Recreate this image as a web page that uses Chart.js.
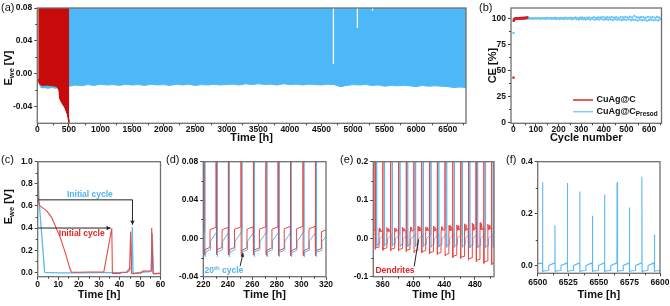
<!DOCTYPE html>
<html><head><meta charset="utf-8">
<script src="https://cdn.jsdelivr.net/npm/chart.js@4.4.1/dist/chart.umd.min.js"></script>
<style>
html,body{margin:0;padding:0;background:#fff;}
body{width:670px;height:306px;position:relative;overflow:hidden;}
canvas{position:absolute;}
.pl{position:absolute;font:11px "Liberation Sans",Arial,sans-serif;color:#111;line-height:12px;}
</style></head><body>
<canvas id="cA" width="468" height="145" style="left:0;top:0"></canvas>
<canvas id="cB" width="190" height="145" style="left:478px;top:0"></canvas>
<canvas id="cC" width="170" height="157" style="left:0;top:145px"></canvas>
<canvas id="cD" width="175" height="157" style="left:165px;top:145px"></canvas>
<canvas id="cE" width="165" height="157" style="left:340px;top:145px"></canvas>
<canvas id="cF" width="165" height="157" style="left:505px;top:145px"></canvas>
<div class="pl" style="left:1px;top:1px">(a)</div>
<div class="pl" style="left:479px;top:1px">(b)</div>
<div class="pl" style="left:1px;top:153px">(c)</div>
<div class="pl" style="left:166px;top:153px">(d)</div>
<div class="pl" style="left:340px;top:153px">(e)</div>
<div class="pl" style="left:506px;top:153px">(f)</div>
<script>
// ================= DATA =================
// (a) long-term cycling: lower envelope of the dense voltage band (upper end is off-scale)
const aXTicks = [0,500,1000,1500,2000,2500,3000,3500,4000,4500,5000,5500,6000,6500];
const aYTicks = [-0.04,0,0.04,0.08];
const aBlueT = [20,50,80,120,160,200,240,280,320,360,400,450,500,550,600,700,800,900,1000,1100,1200,1300,1400,1500,1600,1700,1800,1900,2000,2100,2200,2300,2400,2500,2600,2700,2800,2900,3000,3100,3200,3300,3400,3500,3600,3700,3800,3900,4000,4100,4200,4300,4400,4500,4600,4700,4800,4900,5000,5100,5200,5300,5400,5500,5600,5700,5800,5900,6000,6100,6200,6300,6400,6500,6600,6700,6800];
const aBlueV = [-0.006,-0.016,-0.017,-0.0165,-0.0175,-0.017,-0.0165,-0.0175,-0.017,-0.0165,-0.016,-0.0155,-0.015,-0.0145,-0.0135,-0.0145,-0.013,-0.014,-0.0125,-0.0135,-0.013,-0.014,-0.0125,-0.0135,-0.013,-0.014,-0.0125,-0.0135,-0.013,-0.014,-0.0125,-0.0135,-0.0125,-0.014,-0.013,-0.0135,-0.0125,-0.0135,-0.013,-0.0125,-0.0135,-0.012,-0.013,-0.012,-0.013,-0.0125,-0.0135,-0.012,-0.013,-0.0125,-0.0135,-0.0125,-0.013,-0.0135,-0.0125,-0.013,-0.0155,-0.014,-0.013,-0.0135,-0.013,-0.014,-0.0135,-0.015,-0.014,-0.0145,-0.014,-0.0145,-0.0155,-0.014,-0.015,-0.0145,-0.015,-0.0155,-0.0165,-0.016,-0.0165];
const aRedT = [15,30,60,100,150,200,250,300,330,345,352,365,380,400,420,440,460,475,490,500,506];
const aRedV = [-0.006,-0.012,-0.0135,-0.014,-0.0135,-0.014,-0.0145,-0.015,-0.018,-0.021,-0.029,-0.032,-0.034,-0.037,-0.039,-0.042,-0.046,-0.049,-0.055,-0.059,-0.06];
const aGapT = [4690,5070,5310];
const aGapLow = [0.012,0.056,0.077];

// (b) coulombic efficiency
const bXTicks = [0,100,200,300,400,500,600];
const bYTicks = [0,25,50,75,100];
const bRedCycles = [1,2,4,6,8,10,12,14,16,18,20,22,24,26,28,30,32,34,36,38,40,42,44,46,48,50,52,54,56,58,60,62];
const bRedCE = [43,97.5,98.6,99.2,99.5,99.8,99.6,100.0,99.7,100.2,99.9,100.1,99.8,100.3,100.0,100.2,99.9,100.4,100.1,100.3,100.0,100.5,100.2,100.4,100.1,100.6,100.3,100.5,100.2,100.7,100.4,100.9];
const bBlueFirstCycles = [1,2];
const bBlueFirstCE = [86,99.2];
// blue: every 5th cycle from 5 to 650
const bBlueCE = [
100.2,99.8,100.4,99.9,100.1,100.3,99.7,100.2,100.0,99.6,
100.3,100.1,99.8,100.4,99.9,100.2,100.0,99.7,100.3,100.1,
99.8,100.4,100.0,99.6,100.2,100.3,99.9,100.1,99.7,100.4,
100.0,99.8,100.5,99.6,100.2,99.9,100.6,99.5,100.1,100.3,
99.4,100.5,99.9,100.2,99.3,100.6,100.0,99.6,100.4,99.8,
100.7,99.2,100.3,99.9,100.8,99.4,100.1,99.0,100.6,99.7,
100.9,99.1,100.4,98.9,100.7,99.5,101.0,98.8,100.3,99.6,
101.2,98.7,100.5,99.3,101.0,98.9,100.8,99.4,101.3,98.6,
100.6,99.2,101.1,98.8,100.9,99.0,101.4,98.5,100.7,99.3,
101.2,98.7,100.5,99.1,101.5,98.4,100.8,99.0,101.3,98.6,
101.0,99.2,101.6,98.3,100.9,98.8,102.4,98.5,101.1,97.9,
100.8,99.0,101.4,98.2,101.2,98.7,100.6,97.8,101.5,98.4,
101.0,98.9,101.3,98.1,100.7,98.6,101.4,98.0,100.9,99.1];

// (c) first cycles
const cXTicks = [0,10,20,30,40,50,60];
const cYTicks = [0,0.2,0.4,0.6,0.8,1.0];
const cRedT = [0,0.25,1.1,4.4,6.8,8.4,10.9,13.3,15.7,16.5,20,25,30,32.3,36.2,36.5,40.4,40.8,43.8,44.9,45.4,45.9,50.8,51.1,55.4,55.7,56.4,60];
const cRedV = [1.0,0.65,0.60,0.555,0.497,0.428,0.32,0.187,0.036,0.0,0.0,0.002,0.003,0.004,0.398,-0.01,-0.01,0.0,0.0,0.02,0.367,-0.012,-0.005,0.01,0.012,0.40,-0.012,-0.01];
const cBlueT = [0,0.6,3.4,10,20,30,40,43.3,44.6,45.8,46.2,46.6,50,55.3,56.0,56.5,60];
const cBlueV = [1.0,0.66,0.0,-0.005,-0.005,-0.004,-0.004,0.0,0.03,0.04,0.41,-0.012,0.0,0.005,0.35,-0.012,-0.01];
const cArrowBlue = [[0,0.655],[46.3,0.655],[46.3,0.43]];
const cArrowRed = [[0,0.40],[35.6,0.40]];
const cTextBlue = [25.5,0.70];
const cTextRed = [21.5,0.353];

// cycle rows: [spike t, spike peak, dip, low start, step t, low end, high start, high end, (noise)]
// (d)
const dXTicks = [220,240,260,280,300,320];
const dYTicks = [-0.04,0,0.04,0.08];
const dRedStart = [219,0.0115];
const dRed = [
 [220.4,0.3,-0.017,-0.012,225.3,-0.0095,0.009,0.0115],
 [230.3,0.3,-0.017,-0.012,235.2,-0.0095,0.009,0.0115],
 [240.3,0.3,-0.017,-0.012,245.3,-0.0095,0.0095,0.012],
 [250.6,0.3,-0.017,-0.0125,255.5,-0.01,0.0095,0.012],
 [260.6,0.3,-0.0175,-0.0125,265.6,-0.01,0.0095,0.012],
 [270.9,0.3,-0.0175,-0.0125,275.8,-0.01,0.0095,0.012],
 [280.8,0.3,-0.018,-0.013,285.8,-0.0105,0.01,0.0125],
 [290.9,0.3,-0.018,-0.013,295.9,-0.0105,0.01,0.0125],
 [301.1,0.3,-0.018,-0.013,306.0,-0.0105,0.01,0.0125],
 [311.1,0.3,-0.018,-0.013,316.1,-0.0105,0.007,0.009]];
const dBlueStart = [219,0.007];
const dBlue = [
 [221.2,0.3,-0.019,-0.014,225.7,-0.012,-0.003,0.007],
 [231.1,0.3,-0.019,-0.014,235.6,-0.012,-0.003,0.007],
 [241.1,0.3,-0.019,-0.014,245.7,-0.012,-0.003,0.007],
 [251.4,0.3,-0.019,-0.014,255.9,-0.012,-0.003,0.007],
 [261.4,0.3,-0.019,-0.014,266.0,-0.012,-0.003,0.007],
 [271.7,0.3,-0.019,-0.014,276.2,-0.012,-0.003,0.007],
 [281.6,0.3,-0.019,-0.0145,286.2,-0.0125,-0.003,0.007],
 [291.7,0.3,-0.019,-0.0145,296.3,-0.0125,-0.003,0.007],
 [301.9,0.3,-0.019,-0.0145,306.4,-0.0125,-0.003,0.007],
 [311.9,0.3,-0.019,-0.0145,316.5,-0.0125,-0.003,0.003]];
const dNoteText = [221,-0.034];
const dNoteArrow = [[250.0,-0.029],[252.4,-0.0155]];

// (e)
const eXTicks = [360,400,440,480];
const eYTicks = [-0.1,0,0.1,0.2];
const eRedStart = [347,0.021];
const eRed = [
 [350.0,0.5,-0.029,-0.025,355.0,-0.023,0.018,0.021,[0.026,0.017,0.024,0.019]],
 [360.1,0.5,-0.031,-0.027,365.1,-0.025,0.018,0.021,[0.028,0.018,0.025]],
 [370.2,0.5,-0.032,-0.028,375.2,-0.026,0.019,0.022,[0.027,0.018,0.026,0.02]],
 [380.3,0.5,-0.033,-0.029,385.3,-0.027,0.019,0.022,[0.029,0.019,0.027]],
 [390.4,0.5,-0.035,-0.031,395.4,-0.029,0.019,0.023,[0.03,0.018,0.028,0.02]],
 [400.5,0.5,-0.037,-0.033,405.5,-0.031,0.02,0.023,[0.031,0.019,0.029]],
 [410.6,0.5,-0.038,-0.034,415.6,-0.032,0.02,0.024,[0.03,0.02,0.028,0.021]],
 [420.7,0.5,-0.041,-0.037,425.7,-0.035,0.02,0.024,[0.032,0.019,0.03]],
 [430.8,0.5,-0.043,-0.039,435.8,-0.037,0.021,0.025,[0.031,0.02,0.029,0.022]],
 [440.9,0.5,-0.046,-0.042,445.9,-0.04,0.021,0.025,[0.034,0.02,0.031]],
 [451.0,0.5,-0.05,-0.046,456.0,-0.044,0.022,0.026,[0.035,0.021,0.033,0.022]],
 [461.1,0.5,-0.053,-0.049,466.1,-0.047,0.022,0.027,[0.038,0.02,0.036,0.023]],
 [471.2,0.5,-0.057,-0.053,476.2,-0.051,0.023,0.027,[0.04,0.021,0.037,0.023]],
 [481.3,0.5,-0.061,-0.057,486.3,-0.055,0.023,0.028,[0.041,0.022,0.038,0.024]],
 [491.4,0.5,-0.065,-0.061,496.4,-0.059,0.024,0.028,[0.037,0.022,0.034]],
 [501.5,0.5,-0.069,-0.065,506.5,-0.063,0.024,0.028]];
const eBlueStart = [347,0.01];
const eBlue = [
 [352.0,0.5,-0.021,-0.016,356.0,-0.014,-0.001,0.01],
 [362.1,0.5,-0.021,-0.016,366.1,-0.014,-0.001,0.01],
 [372.2,0.5,-0.021,-0.016,376.2,-0.014,-0.001,0.01],
 [382.3,0.5,-0.022,-0.017,386.3,-0.015,-0.001,0.01],
 [392.4,0.5,-0.022,-0.017,396.4,-0.015,-0.001,0.01],
 [402.5,0.5,-0.022,-0.017,406.5,-0.015,-0.001,0.01],
 [412.6,0.5,-0.023,-0.018,416.6,-0.016,-0.001,0.011],
 [422.7,0.5,-0.023,-0.018,426.7,-0.016,-0.001,0.011],
 [432.8,0.5,-0.023,-0.018,436.8,-0.016,-0.001,0.011],
 [442.9,0.5,-0.024,-0.019,446.9,-0.017,-0.001,0.011],
 [453.0,0.5,-0.024,-0.019,457.0,-0.017,0.0,0.012],
 [463.1,0.5,-0.024,-0.02,467.1,-0.018,0.0,0.012],
 [473.2,0.5,-0.025,-0.02,477.2,-0.018,0.0,0.012],
 [483.3,0.5,-0.025,-0.021,487.3,-0.019,0.0,0.012],
 [493.4,0.5,-0.025,-0.021,497.4,-0.019,0.0,0.012],
 [503.5,0.5,-0.025,-0.021,507.5,-0.019,0.0,0.012]];
const eNoteText = [376,-0.085];
const eNoteLine = [[401,-0.073],[406.5,-0.003]];

// (f)
const fXTicks = [6500,6525,6550,6575,6600];
const fYTicks = [0,0.2,0.4];
const fBlueStart = [6499,0.01];
const fBlue = [
 [6503.9,0.321,-0.023,-0.019,6508.9,-0.017,0.002,0.012],
 [6514.0,0.156,-0.023,-0.019,6519.0,-0.017,0.002,0.012],
 [6524.2,0.318,-0.023,-0.019,6529.2,-0.017,0.002,0.012],
 [6534.3,0.286,-0.023,-0.019,6539.3,-0.017,0.002,0.012],
 [6544.5,0.193,-0.023,-0.019,6549.5,-0.017,0.002,0.012],
 [6554.6,0.274,-0.023,-0.019,6559.6,-0.017,0.002,0.012],
 [6564.8,0.321,-0.023,-0.019,6569.8,-0.017,0.002,0.012],
 [6574.9,0.224,-0.023,-0.019,6579.9,-0.017,0.002,0.012],
 [6585.1,0.342,-0.023,-0.019,6590.1,-0.017,0.002,0.012],
 [6595.2,0.121,-0.023,-0.019,6600.2,-0.017,0.002,0.012]];

// ================= STYLE / HELPERS =================
const FONT = "'Liberation Sans', Arial, sans-serif";
const RED_A = '#c70a0a', BLUE_A = '#4db8f7';
const RED = '#e84848', BLUE = '#5ab9f0';
const TXT_BLUE = '#4fb3f0', TXT_RED = '#e0242a';
Chart.defaults.font.family = FONT;
Chart.defaults.color = '#111';

function pts(ts, vs){ return ts.map((t,i)=>({x:t, y:vs[i]})); }
function wave(start, rows, endT){
  const out = [{x:start[0], y:start[1]}];
  rows.forEach((r,i)=>{
    const [s, peak, dip, lo0, st, lo1, hi0, hi1, noise] = r;
    const prev = i===0 ? start[1] : rows[i-1][7];
    out.push({x:s,y:prev},{x:s+0.1,y:peak},{x:s+0.25,y:dip},{x:s+0.7,y:lo0},{x:st,y:lo1},{x:st+0.15,y:hi0});
    if (noise) {
      noise.forEach((v,k)=>out.push({x:st+0.5+k*0.8, y:v}));
      out.push({x:st+0.5+noise.length*0.8, y:hi0});
    }
    if (i===rows.length-1) out.push({x:endT, y:hi1});
  });
  return out;
}
function mids(t, min, max){
  const out=[]; const st=t[1]-t[0];
  for (let v=t[0]-st/2; v<=max+1e-9; v+=st) if (v>=min-1e-9) out.push(v);
  return out;
}
const fmt0 = v => String(v);
const fmt1 = v => v.toFixed(1);
const fmt2 = v => v.toFixed(2);

function xAxis(min,max,ticks,fmt,h,title,pad){
  return {type:'linear',min,max,
    afterBuildTicks:s=>{s.ticks=ticks.map(v=>({value:v}));},
    afterFit:s=>{s.height=h; s.paddingLeft=0; s.paddingRight=0;},
    ticks:{autoSkip:false,maxRotation:0,minRotation:0,padding:pad||0,color:'#111',font:{family:FONT,size:8.5,weight:'bold'},callback:v=>fmt(v)},
    grid:{display:true,drawOnChartArea:false,drawTicks:true,tickLength:3,tickColor:'#444',tickWidth:1},
    border:{display:false},
    title:{display:!!title,text:title||'',color:'#111',font:{family:FONT,size:11,weight:'bold'},padding:0}};
}
function yAxis(min,max,ticks,fmt,w,title,tpad){
  return {type:'linear',min,max,
    afterBuildTicks:s=>{s.ticks=ticks.map(v=>({value:v}));},
    afterFit:s=>{s.width=w; s.paddingTop=0; s.paddingBottom=0;},
    ticks:{autoSkip:false,padding:2,color:'#111',font:{family:FONT,size:8.5,weight:'bold'},callback:v=>fmt(v)},
    grid:{display:true,drawOnChartArea:false,drawTicks:true,tickLength:3,tickColor:'#444',tickWidth:1},
    border:{display:false},
    title:{display:!!title,text:title||'',color:'#111',font:{family:FONT,size:11,weight:'bold'},padding:{top:tpad||0,bottom:0}}};
}
const framePlugin = {id:'frame', afterDraw(c){
  const {ctx, chartArea:a} = c; ctx.save(); ctx.strokeStyle='#707070'; ctx.lineWidth=1.3;
  ctx.strokeRect(a.left, a.top, a.right-a.left, a.bottom-a.top); ctx.restore(); }};
const minorPlugin = {id:'minor', afterDraw(c, args, o){
  const ctx=c.ctx, ar=c.chartArea; ctx.save(); ctx.strokeStyle='#444'; ctx.lineWidth=1;
  (o.x||[]).forEach(v=>{const p=Math.round(c.scales.x.getPixelForValue(v))+0.5; if(p<ar.left||p>ar.right) return;
    ctx.beginPath(); ctx.moveTo(p,ar.bottom); ctx.lineTo(p,ar.bottom+2); ctx.stroke();});
  (o.y||[]).forEach(v=>{const p=Math.round(c.scales.y.getPixelForValue(v))+0.5; if(p<ar.top||p>ar.bottom) return;
    ctx.beginPath(); ctx.moveTo(ar.left,p); ctx.lineTo(ar.left-2,p); ctx.stroke();});
  ctx.restore(); }};
const ewePlugin = {id:'ewe', afterDraw(c, args, o){
  if (o.x==null) return; const ctx=c.ctx; ctx.save(); ctx.translate(o.x,o.y); ctx.rotate(-Math.PI/2);
  ctx.fillStyle='#111'; ctx.textBaseline='middle';
  const f1='bold 11px '+FONT, f2='bold 7.5px '+FONT;
  ctx.font=f1; const wE=ctx.measureText('E').width, wR=ctx.measureText(' [V]').width;
  ctx.font=f2; const wS=ctx.measureText('we').width;
  const x0=-(wE+wS+wR)/2;
  ctx.font=f1; ctx.fillText('E',x0,0); ctx.font=f2; ctx.fillText('we',x0+wE,3); ctx.font=f1; ctx.fillText(' [V]',x0+wE+wS,0);
  ctx.restore(); }};

function arrowHead(ctx, x1,y1,x2,y2, size){
  const a=Math.atan2(y2-y1,x2-x1);
  ctx.beginPath(); ctx.moveTo(x2,y2);
  ctx.lineTo(x2-size*Math.cos(a)+size*0.55*Math.sin(a), y2-size*Math.sin(a)-size*0.55*Math.cos(a));
  ctx.lineTo(x2-size*Math.cos(a)-size*0.55*Math.sin(a), y2-size*Math.sin(a)+size*0.55*Math.cos(a));
  ctx.closePath(); ctx.fill();
}
function mk(id, datasets, x, y, pad, plugins, popts){
  return new Chart(document.getElementById(id), {
    type:'line', data:{datasets},
    options:{responsive:false, animation:false, devicePixelRatio:1,
      layout:{padding:pad}, scales:{x,y},
      plugins:Object.assign({legend:{display:false}, tooltip:{enabled:false}}, popts||{}),
      elements:{point:{radius:0}, line:{tension:0, borderJoinStyle:'bevel'}}},
    plugins:[framePlugin, minorPlugin, ewePlugin].concat(plugins||[])
  });
}
function lineDS(data, color, w){ return {data, borderColor:color, borderWidth:w||1, pointRadius:0, fill:false}; }

// ================= (a) =================
const aDS = [];
aGapT.forEach((t,i)=>aDS.push({data:[{x:t,y:0.1},{x:t,y:aGapLow[i]}], borderColor:'#ffffff', borderWidth:1.3, pointRadius:0, fill:false}));
aDS.push({data:pts(aRedT,aRedV), borderColor:RED_A, backgroundColor:RED_A, borderWidth:1, pointRadius:0, fill:'end'});
aDS.push({data:pts(aBlueT,aBlueV), borderColor:BLUE_A, backgroundColor:BLUE_A, borderWidth:1, pointRadius:0, fill:'end'});
mk('cA', aDS,
  xAxis(0,6790,aXTicks,fmt0,21.7,'Time [h]',-1.5),
  yAxis(-0.06,0.08,aYTicks,fmt2,37.3),
  {left:0,top:8,right:2,bottom:0}, [],
  {minor:{x:mids(aXTicks,0,6790), y:mids(aYTicks,-0.06,0.08)}, ewe:{x:9,y:68}});

// ================= (b) =================
const bLegend = {id:'bLegend', afterDraw(c){
  const ctx=c.ctx; ctx.save(); ctx.lineWidth=1.5;
  ctx.strokeStyle='#d42a2a'; ctx.beginPath(); ctx.moveTo(95,100); ctx.lineTo(115,100); ctx.stroke();
  ctx.strokeStyle='#7fcdf6'; ctx.beginPath(); ctx.moveTo(95,111.7); ctx.lineTo(115,111.7); ctx.stroke();
  ctx.fillStyle='#111'; ctx.textBaseline='middle'; ctx.font='bold 9px '+FONT;
  ctx.fillText('CuAg@C',118.5,100); ctx.fillText('CuAg@C',118.5,111.7);
  const w=ctx.measureText('CuAg@C').width; ctx.font='bold 6.5px '+FONT; ctx.fillText('Presod',118.5+w,114.3);
  ctx.restore(); }};
const bBlueData = pts(bBlueFirstCycles,bBlueFirstCE).concat(bBlueCE.map((v,i)=>({x:5+5*i, y:v})));
mk('cB', [
  {data:pts(bRedCycles,bRedCE), showLine:false, pointRadius:1.6, pointStyle:'rect', pointBackgroundColor:'#d42020', pointBorderColor:'#d42020', pointBorderWidth:0, borderColor:'#d42020'},
  {data:bBlueData, showLine:false, pointRadius:1.2, pointBackgroundColor:'#6cc4f5', pointBorderColor:'#6cc4f5', pointBorderWidth:0, borderColor:'#6cc4f5'}
 ],
  xAxis(-10,655,bXTicks,fmt0,21.7,'Cycle number',-1.5),
  yAxis(-1,110,bYTicks,fmt0,33,'CE [%]',8.4),
  {left:0,top:8,right:6.5,bottom:0}, [bLegend],
  {minor:{x:mids(bXTicks,-10,655), y:mids(bYTicks,-1,110)}});

// ================= (c) =================
const cAnno = {id:'cAnno', afterDatasetsDraw(c){
  const {ctx, scales:{x,y}} = c; ctx.save(); ctx.strokeStyle='#222'; ctx.fillStyle='#222'; ctx.lineWidth=1;
  [cArrowBlue, cArrowRed].forEach(arr=>{
    const p = arr.map(q=>[x.getPixelForValue(q[0]), y.getPixelForValue(q[1])]);
    ctx.beginPath(); ctx.moveTo(p[0][0],p[0][1]); for(let i=1;i<p.length;i++) ctx.lineTo(p[i][0],p[i][1]); ctx.stroke();
    const n=p.length; arrowHead(ctx,p[n-2][0],p[n-2][1],p[n-1][0],p[n-1][1],4);
  });
  ctx.font='bold 8.5px '+FONT; ctx.textAlign='center'; ctx.textBaseline='middle';
  ctx.fillStyle=TXT_BLUE; ctx.fillText('Initial cycle', x.getPixelForValue(cTextBlue[0]), y.getPixelForValue(cTextBlue[1]));
  ctx.fillStyle=TXT_RED; ctx.fillText('Initial cycle', x.getPixelForValue(cTextRed[0]), y.getPixelForValue(cTextRed[1]));
  ctx.restore(); }};
mk('cC', [lineDS(pts(cRedT,cRedV),RED,1.1), lineDS(pts(cBlueT,cBlueV),BLUE,1.3)],
  xAxis(0,60,cXTicks,fmt0,25.3,'Time [h]'),
  yAxis(-0.04,1.0,cYTicks,fmt1,37.7),
  {left:0,top:16.7,right:9.5,bottom:0}, [cAnno],
  {minor:{x:mids(cXTicks,0,60), y:mids(cYTicks,-0.04,1.0)}, ewe:{x:9,y:61.7}});

// ================= (d) =================
const dAnno = {id:'dAnno', afterDatasetsDraw(c){
  const {ctx, scales:{x,y}} = c; ctx.save(); ctx.strokeStyle='#222'; ctx.fillStyle='#222'; ctx.lineWidth=1;
  const p = dNoteArrow.map(q=>[x.getPixelForValue(q[0]), y.getPixelForValue(q[1])]);
  ctx.beginPath(); ctx.moveTo(p[0][0],p[0][1]); ctx.lineTo(p[1][0],p[1][1]); ctx.stroke();
  arrowHead(ctx,p[0][0],p[0][1],p[1][0],p[1][1],3.5);
  ctx.fillStyle=TXT_BLUE; ctx.textBaseline='middle'; ctx.textAlign='left';
  let tx=x.getPixelForValue(dNoteText[0]); const ty=y.getPixelForValue(dNoteText[1]);
  ctx.font='bold 8.5px '+FONT; ctx.fillText('20',tx,ty); tx+=ctx.measureText('20').width;
  ctx.font='bold 6px '+FONT; ctx.fillText('th',tx,ty-3); tx+=ctx.measureText('th').width;
  ctx.font='bold 8.5px '+FONT; ctx.fillText(' cycle',tx,ty);
  ctx.restore(); }};
mk('cD', [lineDS(wave(dRedStart,dRed,321),RED,1), lineDS(wave(dBlueStart,dBlue,321),BLUE,1)],
  xAxis(220,320,dXTicks,fmt0,25.3,'Time [h]'),
  yAxis(-0.04,0.08,dYTicks,fmt2,38.3),
  {left:0,top:16.7,right:14,bottom:0}, [dAnno],
  {minor:{x:mids(dXTicks,220,320), y:mids(dYTicks,-0.04,0.08)}});

// ================= (e) =================
const eAnno = {id:'eAnno', afterDatasetsDraw(c){
  const {ctx, scales:{x,y}} = c; ctx.save(); ctx.strokeStyle='#222'; ctx.lineWidth=1;
  const p = eNoteLine.map(q=>[x.getPixelForValue(q[0]), y.getPixelForValue(q[1])]);
  ctx.beginPath(); ctx.moveTo(p[0][0],p[0][1]); ctx.lineTo(p[1][0],p[1][1]); ctx.stroke();
  ctx.fillStyle=TXT_RED; ctx.font='bold 8.5px '+FONT; ctx.textAlign='center'; ctx.textBaseline='middle';
  ctx.fillText('Dendrites', x.getPixelForValue(eNoteText[0]), y.getPixelForValue(eNoteText[1]));
  ctx.restore(); }};
mk('cE', [lineDS(wave(eRedStart,eRed,506),RED,1), lineDS(wave(eBlueStart,eBlue,506),BLUE,1)],
  xAxis(347.8,504.7,eXTicks,fmt0,25.3,'Time [h]'),
  yAxis(-0.1,0.2,eYTicks,fmt1,33.3),
  {left:0,top:16.7,right:11,bottom:0}, [eAnno],
  {minor:{x:mids(eXTicks,347.8,504.7), y:mids(eYTicks,-0.1,0.2)}});

// ================= (f) =================
mk('cF', [lineDS(wave(fBlueStart,fBlue,6601),BLUE,1.1)],
  xAxis(6500,6600,fXTicks,fmt0,28.7,'Time [h]',1.5),
  yAxis(-0.028,0.4,fYTicks,fmt1,32.7),
  {left:0,top:16.7,right:10,bottom:0}, [],
  {minor:{x:mids(fXTicks,6500,6600), y:mids(fYTicks,-0.028,0.4)}});
</script>
</body></html>
